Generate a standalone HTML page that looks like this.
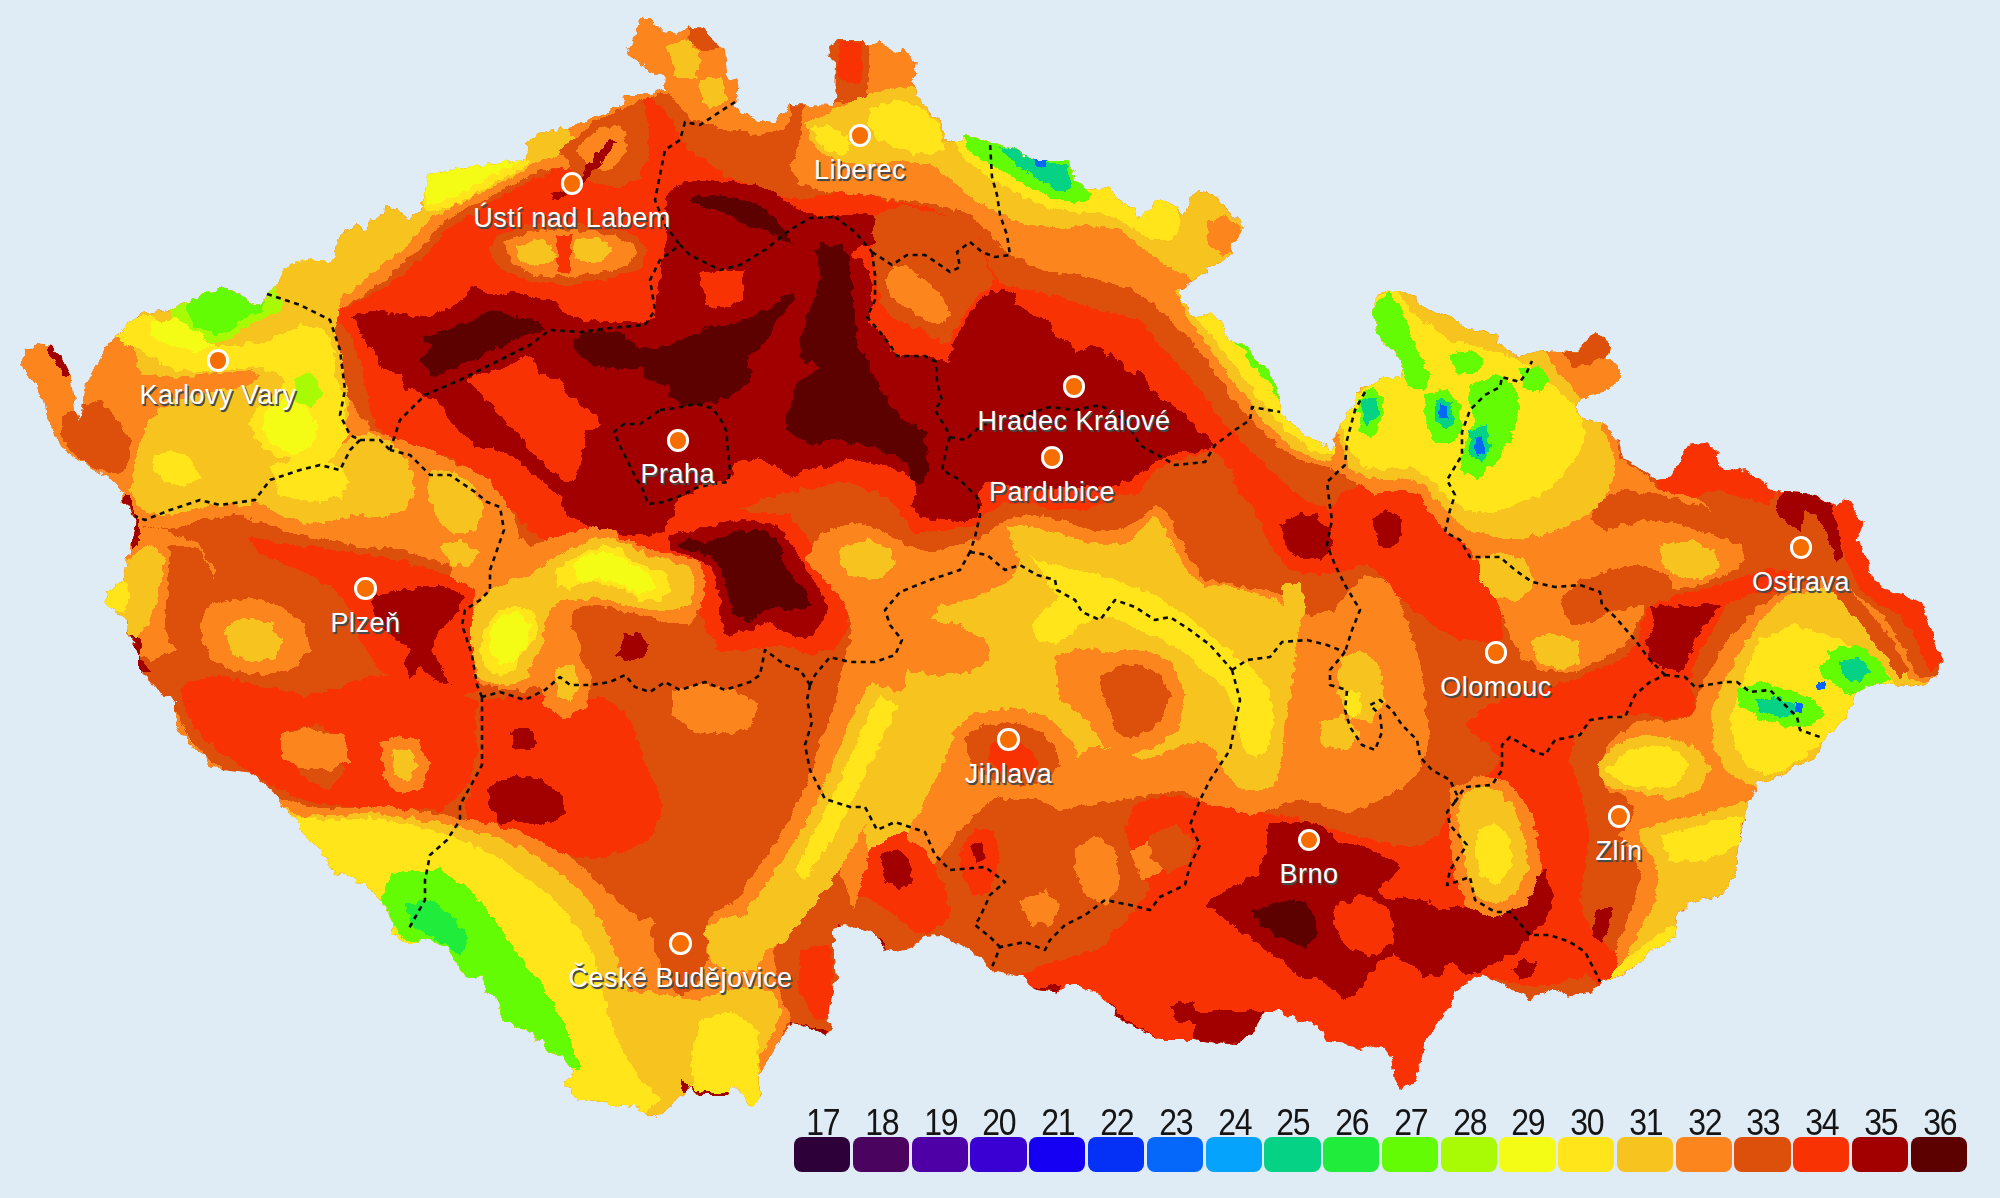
<!DOCTYPE html>
<html lang="cs"><head><meta charset="utf-8"><title>Teplota vzduchu - Česká republika</title>
<style>
html,body{margin:0;padding:0;background:#e0ecf5}
body{width:2000px;height:1198px;position:relative;overflow:hidden;font-family:"Liberation Sans",sans-serif}
#map{position:absolute;left:0;top:0;display:block}
.city{position:absolute;width:0;height:0}
.dot{position:absolute;left:-11.2px;top:-11.2px;width:16.4px;height:16.4px;border:3px solid #fff;border-radius:50%;background:#f76e00}
.lbl{position:absolute;left:-200px;width:400px;top:18px;text-align:center;font-size:27px;line-height:32px;color:#fff;white-space:nowrap;letter-spacing:.5px;text-shadow:1.5px 1.5px 0 #4a4a4a,1px 2px 1px rgba(60,60,60,.7)}
#legend{position:absolute;left:794.2px;top:1103px;height:70px;width:1180px}
.sw{position:absolute;top:34px;width:56.2px;height:34.6px;border-radius:8px}
.num{position:absolute;top:2px;width:56.2px;text-align:center;font-size:36px;line-height:36px;color:#151515;transform:scaleX(.89);letter-spacing:-1.4px;text-indent:1.4px}
</style></head><body>
<svg id="map" width="2000" height="1198" viewBox="0 0 2000 1198" shape-rendering="crispEdges">
<defs><clipPath id="cz"><polygon points="37.5,344 50,346 62.5,360 70,375 72.5,392 75,410 79,421 84,400 86,385 95,370 100,361 105,347.5 115,337.5 127.5,324 142.5,314 170,310 190,301 207,293 220,289 232,291 240,295 252,302 260,305 267.5,294 282.5,275 290,265 312.5,260 330,262.5 335,252.5 340,232.5 355,226 367.5,230 370,220 382.5,214 385,206 397.5,210 410,220 420,210 425,187.5 430,175 450,171 457.5,166 480,167.5 485,164 515,162.5 527.5,157.5 526,142.5 532.5,137.5 550,130 570,127 580,124 600,115 620,106 624,95 650,95 665,89 666,77.5 650,72.5 646,64 630,56 626,51 635,37.5 640,19 649,19 660,29 677.5,34 690,27.5 702.5,27.5 712.5,40 725,52.5 727.5,80 736,77.5 739.5,87.5 735,102.5 740,112.5 757.5,120 775,122.5 782.5,114 790,105 835,106 836,62.5 827.5,55 829,47.5 837.5,40 862.5,40 867.5,46 880,40 886,47.5 899,52.5 904,49 917.5,62.5 916,72.5 911,82.5 925,105 942.5,125 945,142.5 960,142.5 965,135 990,142.5 1012.5,147.5 1035,160 1067.5,160 1075,180 1085,189 1097.5,190 1110,185 1122.5,205 1135,207.5 1137.5,220 1147.5,210 1157.5,199 1170,202.5 1185,215 1190,197.5 1197.5,190 1212.5,194 1245,227.5 1232.5,245 1230,255 1205,272.5 1180,290 1180,300 1190,312.5 1200,317.5 1212.5,314 1222.5,325 1227.5,340 1242.5,342.5 1257.5,362.5 1272.5,377.5 1277.5,390 1281,410 1287.5,420 1312.5,440 1327.5,445 1330,451 1335,445 1336,432.5 1345,420 1355,405 1355,395 1362.5,387.5 1375,385 1380,379 1400,377.5 1402.5,365 1395,352.5 1380,342.5 1375,320 1372.5,302.5 1382.5,291 1400,291 1412.5,297.5 1430,311 1452.5,317.5 1467.5,330 1497.5,334 1501,347.5 1515,356 1545,350 1575,352.5 1595,331 1610,345 1607.5,357.5 1620,370 1617.5,382.5 1602.5,392.5 1582.5,397.5 1576,405 1582.5,417.5 1605,424 1617.5,440 1622.5,458 1640,468 1655,479 1670,477.5 1680,461 1687.5,445 1707.5,442.5 1717.5,452.5 1719,467.5 1730,472.5 1740,467.5 1750,474 1765,482.5 1775,492.5 1785,491 1810,492.5 1830,505 1835,507.5 1847.5,497.5 1857.5,515 1862.5,522.5 1857.5,540 1867.5,560 1872.5,580 1885,590 1900,595 1922.5,602.5 1927.5,620 1935,645 1943,660 1937.5,676 1925,685 1912.5,688 1890,683 1870,685 1857,691 1852,703 1847.5,717.5 1825,737.5 1815,757.5 1795,767.5 1777.5,777.5 1757.5,782.5 1750,800 1746,812.5 1741,835 1737.5,850 1737.5,867.5 1730,885 1720,897.5 1700,900 1687.5,905 1677,916 1674,935 1671,943 1650,950 1640,962.5 1625,972.5 1610,977.5 1600,982.5 1590,992.5 1570,997.5 1552.5,987.5 1540,995 1530,1000 1517.5,992.5 1500,982.5 1485,976 1472.5,977.5 1465,985 1455,992.5 1450,1005 1440,1020 1425,1040 1420,1062.5 1415,1082.5 1400,1089 1395,1080 1392.5,1060 1385,1050 1375,1045 1360,1050 1345,1042.5 1325,1040 1317.5,1025 1295,1020 1282.5,1011 1262.5,1011 1255,1030 1237.5,1045 1215,1042.5 1195,1040 1160,1040 1140,1030 1120,1020 1110,1005 1095,992.5 1080,985 1065,985 1057.5,992.5 1037.5,990 1022.5,977.5 1005,972.5 990,970 980,957.5 965,947.5 950,940 940,935 925,936 912.5,947.5 885,952.5 877.5,935 865,930 845,925 834,929 834,960 836,980 830,1000 828,1020 831,1030 825,1036 812,1028 792,1023 781,1039 770,1057 760,1073 760,1095 752.5,1107.5 742.5,1095 735,1087.5 725,1095 700,1095 690,1085 685,1092.5 675,1102.5 657.5,1117.5 637.5,1107.5 600,1102.5 580,1100 570,1090 565,1082.5 575,1070 565,1057.5 550,1052.5 540,1040 525,1030 505,1022.5 497.5,1002.5 487.5,990 482.5,975 467.5,980 455,960 447.5,947.5 432.5,940 410,942.5 392.5,935 392.5,922.5 382.5,902.5 365,885 350,876 335,872.5 327.5,862.5 320,850 310,842.5 302.5,832.5 297.5,820 287.5,812.5 280,805 277.5,795 265,785 250,772.5 230,770 210,767.5 205,755 192.5,747.5 182.5,735 175,720 175,700 162.5,695 152.5,682.5 140,670 140,652.5 129,637.5 127.5,622.5 115,612.5 105,600 107.5,592.5 122.5,580 125,572.5 129,552.5 132.5,537.5 136,520 130,507.5 122.5,502.5 122.5,492.5 110,480 92.5,467.5 80,460 61,447.5 54,435 47.5,417.5 44,400 35,382.5 25,370 22,362.5 25,350"/></clipPath>
<filter id="rough" x="0" y="0" width="2000" height="1198" filterUnits="userSpaceOnUse" color-interpolation-filters="sRGB">
<feTurbulence type="fractalNoise" baseFrequency="0.11" numOctaves="2" seed="7" result="n"/>
<feDisplacementMap in="SourceGraphic" in2="n" scale="9" xChannelSelector="R" yChannelSelector="G"/>
</filter></defs>
<g filter="url(#rough)"><g clip-path="url(#cz)">
<rect x="0" y="0" width="2000" height="1198" fill="#dc500c"/>
<polygon fill="#f93204" points="320,315 352,305 380,290 408,270 430,250 448,228 482,208 505,194 528,183 548,172 568,164 590,135 620,108 650,97 665,110 688,148 725,175 775,195 800,200 825,195 850,190 875,197 925,207 950,215 975,228 985,255 1000,283 1050,295 1100,310 1140,320 1165,350 1200,390 1225,425 1250,450 1280,480 1305,500 1330,520 1350,545 1345,570 1320,575 1290,570 1270,545 1255,510 1240,495 1230,470 1215,450 1195,455 1175,460 1155,470 1145,485 1140,495 1120,495 1100,505 1080,510 1055,510 1030,505 1010,502 990,510 975,525 945,530 915,535 905,520 890,500 875,492 840,482 800,490 760,500 740,510 790,515 810,540 825,570 845,600 850,625 835,650 810,655 780,645 750,650 720,650 705,630 700,610 705,585 700,562 675,555 650,550 625,540 610,530 590,527 570,532 550,545 525,525 500,500 475,475 450,457 425,450 400,442 385,435 375,425 370,405 365,385 360,360 350,335 337,320"/>
<polygon fill="#a20000" points="350,316 375,310 400,315 425,317 440,310 455,305 465,297 470,285 480,287 485,295 500,295 515,292 525,294 540,299 555,302 560,310 575,318 600,322 640,322 655,318 657,300 660,275 667,240 665,200 675,185 700,180 735,182 770,190 800,210 820,217 840,214 880,215 890,225 897,235 880,237 872,245 860,247 850,255 860,260 870,270 872,295 870,310 872,325 885,335 890,350 900,356 925,356 940,360 950,362 952,345 960,330 970,315 980,300 990,290 1010,292 1020,305 1035,315 1050,320 1055,337 1070,342 1075,352 1090,345 1105,352 1120,362 1130,375 1142,370 1150,385 1160,400 1175,405 1185,415 1195,430 1210,437 1215,445 1200,451 1180,453 1160,459 1146,469 1133,479 1120,485 1105,486 1090,485 1070,487 1050,490 1030,487 1005,485 990,482 980,487 980,505 975,517 960,522 940,520 920,517 912,505 917,490 912,477 895,470 880,465 850,460 828,466 808,470 788,478 780,470 768,462 752,458 735,462 730,478 700,487 680,497 675,512 665,530 650,535 625,535 605,530 585,525 565,515 562,497 550,490 537,475 525,467 512,457 495,450 475,447 460,430 450,420 440,400 425,397 417,392 407,390 400,375 382,367 375,350 365,342 357,325"/>
<polygon fill="#f93204" points="465,380 480,392 495,410 507,425 515,430 525,445 537,457 550,470 565,482 575,480 580,470 582,450 587,432 600,425 595,415 582,405 575,400 565,390 560,380 540,375 535,360 525,355 515,362 505,367 490,372 475,375"/>
<polygon fill="#f93204" points="700,272 744,270 742,300 725,308 705,305"/>
<polygon fill="#a20000" points="670,535 690,530 715,525 740,520 765,522 785,532 795,550 805,570 820,590 830,610 820,625 805,640 785,630 765,622 750,632 725,635 720,620 720,600 715,580 710,565 690,557 670,550"/>
<polygon fill="#a20000" points="625,632 640,635 650,645 645,657 630,662 615,657 620,645"/>
<polygon fill="#5c0000" points="420,337 440,332 460,325 475,317 490,312 500,310 515,317 540,322 545,330 525,335 515,340 505,345 490,350 480,357 465,362 450,370 435,375 425,367 417,360 425,355 430,347 425,340"/>
<polygon fill="#5c0000" points="574,340 580,334 600,332 620,333 628,340 640,348 656,348 672,344 684,338 700,332 712,324 728,326 740,320 752,316 764,310 776,306 784,296 792,290 796,298 788,308 780,316 776,326 768,336 760,346 752,354 748,362 752,372 748,382 740,390 728,398 712,402 696,404 680,404 672,398 668,386 656,382 644,376 640,366 624,368 608,370 592,364 580,356 574,348"/>
<polygon fill="#5c0000" points="815,250 820,245 840,245 850,255 849,270 852,290 854,310 856,330 858,350 868,358 872,374 880,390 892,406 904,422 916,426 926,434 926,450 930,470 920,486 912,482 908,466 900,458 884,452 868,446 848,442 828,440 812,446 800,440 788,430 784,422 790,410 794,394 796,382 812,374 818,366 806,362 800,354 800,340 804,324 812,306 816,290 820,276"/>
<polygon fill="#5c0000" points="690,200 700,195 732,197 760,205 775,217 782,228 795,245 775,235 750,228 725,213 700,207"/>
<polygon fill="#5c0000" points="725,537 740,530 765,532 780,545 785,565 795,580 805,590 810,605 800,610 775,607 760,612 750,622 735,615 730,600 725,585 720,567 710,555 690,550 675,545 685,540 710,542"/>
<polygon fill="#fc851e" points="450,530 470,517 500,520 515,537 530,545 550,540 570,532 590,527 610,530 625,540 650,550 675,555 700,562 705,585 700,610 690,625 670,622 650,617 625,612 600,605 575,607 570,625 580,640 580,660 560,670 550,685 525,690 500,690 480,685 465,675 460,645 450,610"/>
<polygon fill="#f7c31e" points="475,605 490,590 510,580 530,575 550,560 570,550 590,540 610,537 630,545 650,557 675,562 690,567 695,585 690,605 675,610 650,610 625,605 600,597 575,600 560,600 550,610 545,625 542,645 532,665 525,680 500,687 482,680 475,665 470,640 472,620"/>
<polygon fill="#ffe51a" points="555,570 570,560 590,550 605,545 620,550 630,560 650,567 667,572 670,590 660,600 640,600 625,590 610,585 590,582 570,590 557,585"/>
<polygon fill="#ffe51a" points="500,610 520,605 535,615 540,630 530,645 520,657 515,670 500,675 487,670 480,655 482,635 490,620"/>
<polygon fill="#dc500c" points="872,252 875,215 900,205 950,215 975,228 990,270 995,280 985,290 970,305 960,320 950,340 940,345 925,330 905,325 890,315 880,300 877,280 875,265"/>
<polygon fill="#fc851e" points="890,270 905,265 925,280 940,295 950,310 945,325 925,320 905,305 890,295 885,280"/>
<polygon fill="#fc851e" points="325,318 352,302 380,284 403,264 424,244 440,224 460,212 482,202 505,189 525,178 542,170 560,168 585,172 600,175 612,165 618,145 622,125 640,100 600,80 400,150 250,250 250,300 300,322"/>
<polygon fill="#f7c31e" points="332,305 352,291 374,272 396,254 416,236 432,218 452,206 476,196 496,185 515,175 533,164 547,155 562,140 572,127 560,100 400,150 250,250 260,300 300,310"/>
<polygon fill="#ffe51a" points="415,170 426,214 452,205 474,195 494,183 513,173 530,163 530,140 430,140"/>
<polygon fill="#f4fb14" points="420,170 428,205 450,198 470,188 490,177 508,168 522,160 522,140 430,140"/>
<polygon fill="#f4fb14" points="265,295 282,262 335,258 332,272 322,290 310,302 293,309 275,303"/>
<polygon fill="#fc851e" points="325,318 330,340 345,380 350,400 370,430 400,440 430,450 460,465 490,480 510,510 520,535 500,560 480,575 450,565 400,550 350,545 300,535 270,525 235,515 200,520 170,530 135,525 100,530 0,500 0,300 200,250 300,280"/>
<polygon fill="#dc500c" points="62,417 82,405 100,400 110,410 120,425 130,440 130,460 120,475 105,472 90,465 75,455 62,442"/>
<polygon fill="#f7c31e" points="130,325 145,312 170,308 207,293 260,303 290,265 335,255 340,300 335,330 345,380 350,400 345,430 335,460 310,465 280,470 255,490 250,505 215,505 185,512 160,515 140,510 130,490 135,460 145,430 150,400 140,375 135,350"/>
<polygon fill="#f7c31e" points="250,465 280,455 320,462 350,440 370,432 395,445 410,465 415,490 405,510 385,518 360,515 340,520 310,525 280,515 255,500 245,480"/>
<polygon fill="#f7c31e" points="430,470 455,472 475,488 485,510 475,530 455,535 438,520 428,495"/>
<polygon fill="#f7c31e" points="440,545 462,540 478,552 470,565 450,565"/>
<polygon fill="#ffe51a" points="112,335 130,320 150,315 170,325 190,340 215,347 240,345 265,342 285,332 300,325 325,330 335,350 335,375 345,395 345,420 350,435 335,455 325,465 300,462 275,455 255,440 250,420 260,405 275,395 285,382 275,372 250,367 225,370 200,372 175,370 155,360 140,350 125,345"/>
<polygon fill="#fc851e" points="85,382 150,375 175,377 200,375 225,372 250,370 260,375 250,385 225,390 200,395 175,400 160,410 150,420 140,425 135,410 140,390"/>
<polygon fill="#ffe51a" points="155,455 175,450 195,462 200,478 185,487 165,482 152,470"/>
<polygon fill="#ffe51a" points="270,465 300,458 335,465 350,480 340,498 310,502 280,495"/>
<polygon fill="#a8fb05" points="168,308 175,328 195,337 215,342 230,340 240,330 260,320 275,315 285,305 270,280 220,275 190,290"/>
<polygon fill="#64fc05" points="185,305 195,328 215,335 230,332 245,318 262,310 265,295 240,285 215,285"/>
<polygon fill="#a8fb05" points="295,378 305,372 318,380 322,395 312,407 298,402 292,390"/>
<polygon fill="#fc851e" points="527,158 540,162 560,165 585,170 600,175 612,165 618,145 622,125 610,105 590,110 570,120 550,125 525,138"/>
<polygon fill="#f7c31e" points="527,135 545,128 570,124 572,140 560,155 540,162 527,160"/>
<polygon fill="#fc851e" points="615,110 650,97 668,92 690,120 720,128 760,135 790,125 790,100 745,70 730,10 640,10 620,50"/>
<polygon fill="#f7c31e" points="668,45 690,40 702,60 695,78 675,75"/>
<polygon fill="#f7c31e" points="700,80 722,78 728,100 710,108 700,95"/>
<polygon fill="#dc500c" points="688,26 712,28 720,48 700,52 690,42"/>
<polygon fill="#fc851e" points="800,140 790,165 800,185 830,192 860,195 900,200 940,205 970,215 990,235 1010,255 1040,270 1080,275 1120,285 1150,300 1170,320 1190,340 1210,365 1230,395 1250,420 1275,445 1300,460 1330,470 1345,440 1290,400 1260,300 1260,200 1100,150 950,100 930,35 870,35 868,100 805,105"/>
<polygon fill="#f93204" points="838,42 862,42 862,80 850,85 838,75"/>
<polygon fill="#f7c31e" points="805,125 815,150 840,162 870,165 900,160 930,165 950,180 975,200 1000,215 1030,225 1060,228 1090,225 1120,230 1140,245 1160,262 1185,275 1200,290 1215,275 1260,250 1260,180 1100,150 950,100 900,85 870,95 840,105"/>
<polygon fill="#fc851e" points="1207,222 1225,215 1242,228 1240,250 1222,255 1208,245"/>
<polygon fill="#ffe51a" points="870,108 900,100 925,108 940,125 945,150 925,155 900,150 880,140 868,125"/>
<polygon fill="#ffe51a" points="810,128 830,125 850,140 845,155 825,150"/>
<polygon fill="#ffe51a" points="945,130 965,160 990,178 1020,195 1050,208 1080,212 1110,215 1130,225 1150,240 1172,240 1180,225 1178,200 1140,190 1100,170 1040,150 960,120"/>
<polygon fill="#64fc05" points="962,135 975,158 1000,170 1025,185 1050,198 1075,203 1090,197 1088,185 1070,158 1035,155 1010,143 985,134"/>
<polygon fill="#05d284" points="1000,148 1015,165 1040,180 1060,192 1072,188 1068,166 1040,160 1015,146"/>
<polygon fill="#0568fb" points="1033,159 1048,159 1046,167 1035,166"/>
<polygon fill="#f7c31e" points="1175,292 1190,322 1205,340 1218,360 1232,380 1248,400 1262,420 1282,440 1305,456 1335,462 1345,420 1290,400 1260,330 1200,285"/>
<polygon fill="#ffe51a" points="1182,298 1197,320 1212,336 1227,356 1242,376 1257,396 1272,416 1292,436 1312,450 1335,455 1345,420 1290,400 1260,330 1200,290"/>
<polygon fill="#64fc05" points="1228,335 1240,347 1255,367 1268,382 1278,400 1288,388 1265,358 1245,336"/>
<polygon fill="#fc851e" points="100,530 135,525 170,532 200,545 215,570 205,600 190,630 175,650 150,660 120,640 100,600"/>
<polygon fill="#f7c31e" points="103,585 120,583 128,600 122,612 108,608"/>
<polygon fill="#fc851e" points="200,610 225,600 255,598 285,608 305,625 310,650 295,668 265,675 235,672 212,660 200,635"/>
<polygon fill="#f7c31e" points="225,628 245,618 270,622 282,640 275,658 250,662 230,652"/>
<polygon fill="#f93204" points="250,537 290,545 330,548 365,555 400,560 440,572 475,590 470,640 478,690 455,700 430,690 400,690 380,670 360,640 350,610 335,590 310,575 280,562 255,550"/>
<polygon fill="#f93204" points="180,690 192,680 220,675 255,685 280,690 305,695 330,690 355,680 380,675 405,685 430,690 455,695 477,700 477,755 470,780 455,800 440,810 425,808 405,812 380,808 355,806 330,805 305,800 280,790 255,775 225,755 200,735 185,710"/>
<polygon fill="#dc500c" points="292,730 317,725 340,735 335,755 345,770 330,790 305,780 292,760"/>
<polygon fill="#fc851e" points="380,742 400,735 420,742 430,765 420,790 400,795 385,780"/>
<polygon fill="#f7c31e" points="392,752 408,748 418,765 408,782 395,775"/>
<polygon fill="#a20000" points="372,595 405,590 440,585 465,595 455,615 440,630 430,650 440,665 450,685 435,680 420,667 410,680 405,665 410,650 400,640 385,630 375,615"/>
<polygon fill="#a20000" points="127,622 140,640 142,660 150,672 138,672 128,650"/>
<polygon fill="#f93204" points="480,700 530,695 570,700 605,698 625,712 637,738 645,765 658,790 662,815 650,838 625,852 595,858 560,855 520,850 490,840 470,830 465,800 480,770 482,730"/>
<polygon fill="#a20000" points="512,730 530,728 537,742 530,752 515,750"/>
<polygon fill="#a20000" points="490,785 515,775 540,780 562,795 565,815 545,825 520,820 500,825 488,805"/>
<polygon fill="#fc851e" points="172,705 188,738 212,762 248,783 282,800 315,808 345,808 380,806 410,810 450,816 490,824 530,836 565,854 595,878 618,903 640,919 650,919 670,939 690,949 700,929 720,909 745,900 770,910 790,940 800,980 790,1020 770,1060 760,1120 600,1150 400,1000 250,850 150,700"/>
<polygon fill="#f7c31e" points="200,760 235,785 270,803 305,816 340,816 380,814 410,818 450,825 490,835 525,849 555,869 585,895 605,927 618,962 628,992 650,992 675,998 700,1000 725,990 750,985 772,992 782,1010 775,1030 760,1055 760,1120 600,1150 400,1000 250,850 180,720"/>
<polygon fill="#ffe51a" points="290,815 330,820 370,818 410,824 450,836 485,850 515,870 545,892 570,917 590,947 600,982 610,1020 625,1055 645,1085 660,1100 600,1150 400,1000 280,840"/>
<polygon fill="#ffe51a" points="700,1020 730,1010 758,1030 760,1120 700,1120 690,1060"/>
<polygon fill="#64fc05" points="392,872 440,870 470,890 495,920 515,950 545,990 565,1025 580,1068 520,1060 480,1000 440,950 400,935 380,900"/>
<polygon fill="#20ec3c" points="405,905 430,900 452,915 470,940 460,955 440,940 415,930"/>
<polygon fill="#dc500c" points="770,925 790,915 815,925 838,940 840,1000 835,1030 810,1030 785,1010 775,970"/>
<polygon fill="#f93204" points="800,950 830,945 836,1015 815,1020 798,990"/>
<polygon fill="#fc851e" points="840,690 860,700 865,740 862,780 855,810 840,845 820,880 800,910 780,940 765,960 740,965 720,950 718,925 732,905 750,880 770,850 790,820 810,775 828,725"/>
<polygon fill="#fc851e" points="805,560 820,535 850,522 880,530 905,545 930,552 960,545 985,535 1005,520 1030,515 1060,520 1090,530 1120,530 1140,520 1155,505 1168,512 1178,535 1190,560 1205,580 1235,585 1265,590 1290,600 1310,615 1335,610 1350,590 1365,575 1385,580 1400,600 1410,630 1420,660 1425,700 1430,740 1420,770 1400,790 1380,800 1360,810 1340,812 1320,805 1300,800 1280,805 1260,815 1240,820 1220,815 1200,800 1180,790 1150,795 1120,800 1090,805 1060,810 1040,800 1020,790 1000,795 980,810 960,830 945,850 930,870 915,900 900,925 880,935 860,925 850,900 840,870 838,840 822,812 810,785 815,755 828,725 838,695 842,670 846,655 850,640 852,620 842,600 825,580"/>
<polygon fill="#f7c31e" points="920,640 940,605 970,600 990,590 1010,580 1020,565 1015,545 1005,527 1020,525 1055,532 1080,540 1105,545 1130,542 1142,527 1155,515 1165,530 1175,550 1190,575 1205,585 1230,587 1250,592 1275,600 1290,612 1298,640 1292,680 1287,720 1282,755 1275,785 1260,790 1240,790 1225,775 1215,750 1200,740 1180,745 1160,755 1140,760 1120,750 1100,745 1080,755 1060,770 1050,760 1040,740 1030,720 1010,715 990,720 970,715 955,730 945,760 930,790 915,820 900,850 885,870 870,860 865,830 870,800 880,770 890,740 900,710 905,680 910,660"/>
<polygon fill="#f7c31e" points="872,682 910,695 900,735 885,775 870,815 852,850 830,885 805,915 785,940 765,950 745,940 742,918 760,892 782,862 802,830 822,790 838,750 852,715"/>
<polygon fill="#f7c31e" points="840,548 865,540 890,548 897,565 880,578 855,577 840,565"/>
<polygon fill="#fc851e" points="875,640 900,622 930,618 960,625 985,640 990,660 970,672 940,675 910,672 885,662"/>
<polygon fill="#fc851e" points="1055,655 1085,648 1110,652 1145,650 1172,662 1185,695 1180,725 1160,745 1130,755 1105,745 1085,720 1060,700"/>
<polygon fill="#dc500c" points="1100,677 1115,667 1140,665 1160,675 1170,695 1165,715 1150,730 1130,740 1115,730 1110,710 1102,695"/>
<polygon fill="#fc851e" points="950,740 975,712 1015,708 1050,718 1075,745 1078,775 1055,795 1015,800 980,795 955,775"/>
<polygon fill="#dc500c" points="967,735 985,725 1010,722 1035,728 1055,745 1060,765 1045,780 1020,785 995,780 975,770 965,752"/>
<polygon fill="#f93204" points="990,745 1010,738 1030,748 1040,765 1020,775 1000,772 988,760"/>
<polygon fill="#ffe51a" points="1030,556 1055,566 1080,571 1105,576 1130,586 1155,596 1180,611 1205,631 1230,651 1255,671 1269,691 1274,720 1269,749 1255,759 1241,745 1237,715 1227,692 1207,672 1182,651 1156,637 1131,626 1105,616 1082,622 1074,634 1056,644 1036,639 1032,625 1042,611 1058,598 1048,581"/>
<polygon fill="#ffe51a" points="880,695 898,705 885,735 870,765 855,795 840,825 822,855 805,880 795,870 810,840 828,805 845,770 860,735 870,710"/>
<polygon fill="#f7c31e" points="1340,660 1360,650 1380,665 1385,700 1372,722 1350,718 1338,695"/>
<polygon fill="#f7c31e" points="1318,722 1343,716 1360,732 1348,750 1326,748"/>
<polygon fill="#f7c31e" points="1282,585 1300,582 1305,610 1298,632 1284,628"/>
<polygon fill="#ffe51a" points="1345,693 1358,690 1363,705 1355,717 1345,712"/>
<polygon fill="#f93204" points="1215,450 1250,450 1280,480 1305,500 1330,510 1345,490 1370,480 1400,478 1430,490 1450,505 1470,520 1490,540 1500,570 1502,600 1502,640 1485,642 1460,640 1440,630 1420,615 1400,600 1385,580 1370,565 1345,570 1320,575 1290,570 1270,545 1255,510 1240,495 1230,470"/>
<polygon fill="#f93204" points="1030,969 1100,949 1130,915 1150,890 1135,860 1125,830 1135,805 1165,795 1200,800 1240,812 1270,815 1300,818 1340,832 1380,842 1410,848 1435,838 1450,812 1480,785 1500,760 1490,745 1475,735 1465,725 1480,710 1500,700 1520,695 1545,690 1570,680 1595,670 1620,660 1640,640 1645,610 1675,595 1700,590 1725,582 1750,575 1770,570 1790,572 1787,585 1775,592 1750,595 1725,605 1720,620 1700,650 1690,680 1695,700 1690,715 1670,720 1645,715 1620,715 1595,720 1575,735 1570,760 1580,790 1590,830 1585,870 1580,900 1590,930 1610,950 1640,960 1700,1000 1600,1100 1400,1150 1100,1100 1000,1000"/>
<polygon fill="#f93204" points="1655,479 1670,477 1688,445 1708,440 1718,452 1720,467 1740,465 1765,480 1775,490 1770,505 1750,500 1730,495 1715,490 1700,495 1685,500 1665,495"/>
<polygon fill="#f93204" points="1775,488 1810,490 1835,505 1848,495 1865,522 1860,540 1875,580 1900,593 1925,600 1937,645 1946,660 1930,672 1915,640 1900,615 1880,605 1860,590 1848,565 1840,540 1825,520 1800,510 1780,505"/>
<polygon fill="#a20000" points="1280,525 1295,515 1315,515 1330,530 1332,550 1320,560 1300,558 1285,548"/>
<polygon fill="#a20000" points="1372,520 1385,510 1400,515 1402,535 1392,548 1378,545"/>
<polygon fill="#a20000" points="1650,607 1720,605 1695,640 1685,670 1665,670 1650,660 1645,640 1655,625"/>
<polygon fill="#a20000" points="1775,500 1785,491 1810,492 1830,505 1838,525 1842,555 1835,560 1828,535 1815,515 1805,512 1800,530 1790,525 1778,515"/>
<polygon fill="#a20000" points="1270,822 1300,820 1320,825 1335,840 1360,845 1380,855 1400,865 1390,880 1375,890 1385,900 1405,897 1425,900 1440,910 1460,907 1475,905 1500,900 1520,895 1535,875 1545,870 1552,885 1552,905 1545,920 1530,935 1520,950 1500,960 1480,972 1465,975 1450,960 1440,975 1425,975 1410,965 1395,955 1380,960 1370,975 1355,995 1345,1000 1335,990 1320,980 1300,975 1280,960 1260,945 1240,930 1220,915 1205,905 1215,895 1235,885 1255,875 1265,855 1267,835"/>
<polygon fill="#f93204" points="1335,905 1365,895 1390,910 1395,940 1375,955 1350,950 1335,930"/>
<polygon fill="#5c0000" points="1250,912 1270,905 1290,900 1305,902 1315,917 1317,935 1305,947 1290,942 1275,935 1260,925"/>
<polygon fill="#a20000" points="1195,1012 1262,1010 1255,1032 1237,1048 1210,1046 1195,1040"/>
<polygon fill="#a20000" points="1170,1004 1195,1002 1195,1022 1175,1020"/>
<polygon fill="#a20000" points="1592,935 1598,910 1612,905 1610,925 1600,942"/>
<polygon fill="#a20000" points="1512,968 1525,960 1537,962 1533,975 1518,978"/>
<polygon fill="#dc500c" points="1495,978 1520,985 1550,985 1590,975 1600,990 1560,1000 1500,1000"/>
<polygon fill="#fc851e" points="1075,850 1095,835 1115,850 1120,885 1105,905 1085,895 1075,870"/>
<polygon fill="#fc851e" points="1020,900 1045,890 1060,905 1050,925 1030,925"/>
<polygon fill="#fc851e" points="1130,850 1150,842 1165,855 1160,875 1140,880"/>
<polygon fill="#fc851e" points="1450,790 1480,775 1510,782 1528,805 1538,840 1540,875 1525,905 1495,918 1468,908 1455,880 1450,840"/>
<polygon fill="#f7c31e" points="1462,795 1480,785 1500,790 1515,810 1525,840 1528,870 1515,895 1495,905 1475,895 1465,870 1462,840 1458,815"/>
<polygon fill="#ffe51a" points="1478,830 1495,822 1510,840 1512,865 1498,885 1482,878 1475,855"/>
<polygon fill="#fc851e" points="1335,445 1332,470 1355,482 1375,495 1400,490 1420,495 1430,515 1445,530 1465,545 1480,565 1495,595 1505,625 1520,655 1545,672 1575,672 1600,660 1625,645 1640,620 1645,600 1670,590 1700,585 1725,575 1745,560 1740,535 1720,520 1700,500 1680,495 1660,490 1650,478 1620,458 1617,440 1605,424 1650,400 1650,300 1400,270 1340,300 1330,400"/>
<polygon fill="#dc500c" points="1600,500 1625,490 1660,495 1700,505 1730,520 1760,530 1765,545 1740,545 1710,535 1680,525 1650,520 1625,525 1605,530 1590,520"/>
<polygon fill="#dc500c" points="1560,600 1580,580 1610,570 1640,565 1670,575 1675,595 1650,605 1620,610 1595,620 1570,625"/>
<polygon fill="#f7c31e" points="1340,445 1350,470 1375,480 1400,478 1425,485 1440,505 1460,525 1485,535 1510,540 1540,535 1570,525 1595,510 1610,490 1615,465 1610,440 1600,425 1650,400 1650,300 1400,270 1340,300 1330,400"/>
<polygon fill="#f7c31e" points="1478,560 1500,552 1525,560 1535,585 1520,600 1495,598 1480,580"/>
<polygon fill="#f7c31e" points="1532,640 1555,632 1578,642 1580,662 1560,670 1538,662"/>
<polygon fill="#f7c31e" points="1660,545 1690,540 1715,550 1720,570 1700,580 1675,575 1660,562"/>
<polygon fill="#fc851e" points="1545,348 1575,350 1595,328 1614,345 1624,370 1620,385 1600,395 1580,398 1570,385 1555,370"/>
<polygon fill="#dc500c" points="1562,352 1578,350 1595,330 1612,345 1606,358 1590,365 1572,366"/>
<polygon fill="#ffe51a" points="1345,440 1360,465 1385,470 1410,468 1430,478 1445,495 1465,510 1490,515 1515,505 1540,495 1560,480 1575,460 1585,440 1582,418 1570,400 1550,385 1530,365 1510,355 1490,350 1470,345 1450,340 1430,325 1410,310 1395,290 1370,295 1368,340 1395,352 1402,370 1380,380 1355,395 1340,420"/>
<polygon fill="#64fc05" points="1372,305 1390,292 1400,305 1410,330 1420,355 1430,375 1425,390 1405,385 1400,365 1395,352 1380,342 1373,320"/>
<polygon fill="#64fc05" points="1362,392 1375,388 1385,400 1380,425 1370,440 1360,430 1358,410"/>
<polygon fill="#64fc05" points="1425,395 1445,390 1460,405 1462,430 1450,445 1432,440 1425,420"/>
<polygon fill="#64fc05" points="1470,385 1495,375 1515,385 1520,410 1510,440 1495,465 1475,480 1460,470 1465,445 1475,420 1468,400"/>
<polygon fill="#64fc05" points="1450,355 1470,350 1485,362 1475,375 1455,372"/>
<polygon fill="#64fc05" points="1520,370 1540,365 1550,380 1540,392 1525,388"/>
<polygon fill="#05d284" points="1435,400 1450,400 1455,420 1445,432 1435,420"/>
<polygon fill="#05d284" points="1470,430 1485,425 1492,445 1482,462 1470,455"/>
<polygon fill="#05d284" points="1363,398 1376,396 1378,415 1368,428 1362,415"/>
<polygon fill="#0568fb" points="1440,405 1448,405 1448,418 1440,418"/>
<polygon fill="#0568fb" points="1473,438 1483,436 1485,452 1476,455"/>
<polygon fill="#fc851e" points="1600,770 1610,740 1640,720 1670,722 1690,716 1700,690 1720,650 1740,625 1760,605 1787,590 1810,585 1830,580 1850,590 1870,605 1890,625 1905,650 1915,675 1950,680 1950,700 1860,760 1760,900 1700,1000 1640,1000 1620,975 1615,950 1625,925 1635,900 1640,870 1630,850 1618,835 1635,815 1625,795 1605,790"/>
<polygon fill="#f7c31e" points="1787,597 1810,590 1830,585 1848,595 1865,612 1885,632 1900,655 1910,680 1950,685 1950,700 1860,760 1800,790 1760,790 1730,775 1715,750 1710,720 1720,690 1735,660 1750,635 1768,612"/>
<polygon fill="#f7c31e" points="1595,765 1615,745 1645,735 1675,738 1700,750 1710,770 1700,790 1675,800 1650,795 1625,790 1605,785"/>
<polygon fill="#f7c31e" points="1640,830 1670,820 1700,815 1730,805 1750,800 1745,840 1738,870 1725,895 1700,905 1680,910 1675,940 1650,955 1640,975 1625,960 1640,930 1655,900 1660,870 1645,850"/>
<polygon fill="#ffe51a" points="1760,640 1790,625 1815,630 1840,640 1865,655 1885,670 1900,690 1860,700 1850,720 1825,740 1800,760 1775,775 1750,770 1735,750 1730,720 1740,690 1750,660"/>
<polygon fill="#ffe51a" points="1605,770 1625,752 1650,745 1675,750 1690,765 1675,785 1650,788 1625,785"/>
<polygon fill="#ffe51a" points="1660,835 1690,828 1720,820 1742,815 1740,845 1720,855 1695,862 1670,860"/>
<polygon fill="#ffe51a" points="1650,940 1675,925 1700,905 1720,898 1700,930 1680,950 1660,965 1640,975 1615,990 1600,985 1620,965"/>
<polygon fill="#64fc05" points="1830,650 1855,645 1880,660 1890,680 1870,690 1850,695 1835,685 1820,670"/>
<polygon fill="#64fc05" points="1737,690 1760,682 1790,690 1815,700 1825,715 1805,728 1780,725 1755,715 1740,705"/>
<polygon fill="#05d284" points="1840,660 1860,658 1872,672 1858,682 1842,676"/>
<polygon fill="#05d284" points="1755,700 1780,698 1800,710 1785,718 1760,712"/>
<polygon fill="#0568fb" points="1818,682 1826,682 1826,690 1818,690"/>
<polygon fill="#0568fb" points="1795,705 1803,705 1803,712 1795,712"/>
<polygon fill="#dc500c" points="1800,555 1825,565 1850,590 1872,615 1892,640 1908,670 1900,680 1880,650 1860,622 1838,598 1815,578 1795,568"/>
<polygon fill="#fc851e" points="545,655 575,650 592,675 588,705 565,720 545,705 538,680"/>
<polygon fill="#f7c31e" points="555,668 572,665 580,682 572,700 558,698"/>
<polygon fill="#f4fb14" points="265,410 285,398 305,405 318,425 312,448 292,455 272,445 262,428"/>
<polygon fill="#f4fb14" points="150,322 175,318 200,335 215,345 195,352 170,345 150,335"/>
<polygon fill="#f4fb14" points="572,565 592,553 612,552 628,562 648,572 655,588 640,595 622,585 600,578 580,582"/>
<polygon fill="#f4fb14" points="498,618 518,612 530,625 528,645 515,660 500,665 490,650 490,632"/>
<polygon fill="#dc500c" points="495,238 520,226 560,222 600,226 635,235 648,250 640,268 610,278 570,284 530,282 502,270 490,252"/>
<polygon fill="#fc851e" points="505,242 528,233 560,229 598,232 628,240 638,252 630,264 605,272 570,277 535,275 510,264"/>
<polygon fill="#f7c31e" points="515,247 535,240 552,244 556,258 540,266 520,262"/>
<polygon fill="#f7c31e" points="575,240 598,238 612,248 605,260 585,263 572,252"/>
<polygon fill="#f93204" points="556,236 572,234 570,272 558,274"/>
<polygon fill="#a20000" points="608,138 616,142 605,158 592,172 580,186 566,196 552,200 550,194 565,190 578,178 590,164 600,150"/>
<polygon fill="#dc500c" points="650,925 705,925 708,955 698,985 680,998 666,978 656,955"/>
<polygon fill="#f7c31e" points="705,925 735,915 760,925 768,950 755,970 730,975 710,960"/>
<polygon fill="#a20000" points="48,345 62,358 70,376 63,374 52,358"/>
<polygon fill="#a20000" points="122,497 131,495 133,510 139,522 141,540 133,548 130,530 125,512"/>
<polygon fill="#a20000" points="838,925 880,932 886,953 876,950 866,938 840,932"/>
<polygon fill="#a20000" points="680,1078 700,1092 738,1092 740,1100 695,1100 682,1090"/>
<polygon fill="#a20000" points="790,1022 828,1030 826,1038 810,1030 792,1028"/>
<polygon fill="#a20000" points="1000,972 1035,988 1060,986 1062,994 1035,994 1000,978"/>
<polygon fill="#a20000" points="1110,1005 1125,1020 1160,1040 1160,1046 1122,1026"/>
<polygon fill="#a20000" points="1738,850 1741,835 1746,812 1750,812 1744,850 1740,868"/>
<polygon fill="#dc500c" points="560,150 590,125 620,108 645,100 650,150 640,178 618,188 592,182 572,172"/>
<polygon fill="#fc851e" points="575,150 600,128 622,125 628,150 612,170 590,168"/>
<polygon fill="#a20000" points="608,138 616,142 605,158 592,172 580,186 566,196 552,200 550,194 565,190 578,178 590,164 600,150"/>
<polygon fill="#f93204" points="850,925 870,850 900,832 925,850 945,888 950,918 925,935 875,940"/>
<polygon fill="#dc500c" points="850,925 858,895 880,905 905,925 925,935 875,940"/>
<polygon fill="#a20000" points="880,855 898,848 910,862 912,882 900,890 885,882"/>
<polygon fill="#f93204" points="960,850 975,828 995,832 1000,860 990,892 972,895 962,875"/>
<polygon fill="#a20000" points="970,845 983,842 986,858 976,862"/>
<polygon fill="#fc851e" points="672,690 700,685 735,690 758,705 750,728 720,735 690,730 672,715"/>
<polygon fill="#f7c31e" points="100,580 125,560 150,545 165,560 160,590 150,620 135,640 120,625 105,605"/>
<polygon fill="#ffe51a" points="100,585 122,578 130,595 125,612 108,610"/>
<polygon fill="#dc500c" points="170,545 200,548 212,575 205,610 195,640 178,655 165,630 168,590"/>
<polygon fill="#fc851e" points="280,735 310,728 345,735 350,760 330,770 300,768 282,755"/>
<polygon fill="#dc500c" points="1150,835 1175,825 1195,840 1190,865 1168,872 1150,858"/>
</g></g>
<g fill="none" stroke="#0c0c08" stroke-width="2.6" stroke-dasharray="5 4.5" stroke-linejoin="round" shape-rendering="auto">
<polyline points="267,294 285,300 300,305 330,320 340,350 345,390 340,415 350,435 360,440"/>
<polyline points="360,440 350,450 340,470 320,465 300,470 270,480 255,500 220,505 200,500 170,510 145,520 135,516"/>
<polyline points="360,440 380,440 390,450"/>
<polyline points="390,450 400,420 425,395 460,380 500,360 530,345 550,330 580,332 610,328 645,325 655,310 650,280 660,260 680,245 690,255 720,270 740,265 765,250 790,230 810,218 835,217"/>
<polyline points="735,102 715,115 700,125 685,122 680,140 665,150 660,175 655,200 665,225 680,245"/>
<polyline points="835,217 855,232 872,252"/>
<polyline points="872,252 892,265 907,255 925,255 940,265 950,272 960,267 957,252 970,242 982,252 995,257 1010,255 1007,235 1000,215 997,195 992,177 990,143"/>
<polyline points="872,252 875,275 875,300 867,317 880,332 890,345 897,356 925,356 936,362 937,382 942,400 935,410 947,430 950,437"/>
<polyline points="950,437 965,440 982,425 1000,420 1025,415 1050,407 1075,410 1100,405 1125,420 1140,445 1175,465 1205,462 1215,445 1235,430 1250,420 1252,407 1280,412"/>
<polyline points="1365,392 1355,410 1347,440 1345,465 1327,482 1330,507 1332,520 1327,545 1335,565 1345,585 1360,610 1352,630 1345,652"/>
<polyline points="950,437 947,445 942,470 960,480 977,497 980,515 975,537 970,552"/>
<polyline points="970,552 987,555 1005,570 1020,565 1037,575 1055,580 1057,590 1075,600 1082,612 1100,620 1115,600 1135,607 1155,620 1170,617 1190,630 1210,645 1225,662 1232,670"/>
<polyline points="1232,670 1247,660 1270,657 1282,642 1307,640 1327,645 1345,652"/>
<polyline points="1345,652 1330,670 1330,685 1347,690 1345,710 1350,727 1362,745 1375,750 1382,732 1380,715 1370,705 1380,700 1392,710 1402,725 1417,740 1420,757 1432,770 1450,780 1457,795 1455,802"/>
<polyline points="1455,802 1465,787 1492,785 1502,770 1502,745 1510,737 1535,752 1545,755 1555,740 1580,735 1590,720 1610,717 1625,717 1635,695 1650,682 1665,675"/>
<polyline points="1665,675 1650,660 1635,640 1615,617 1602,605 1600,592 1580,585 1555,587 1532,582 1515,570 1500,557 1470,557 1460,540 1445,532 1450,510 1455,495 1447,480 1462,455 1462,432 1470,410 1485,395 1500,387 1502,377 1520,382 1527,372 1532,361"/>
<polyline points="1665,675 1685,677 1695,687 1725,682 1737,682 1750,692 1770,690 1782,702 1797,717 1800,730 1820,737"/>
<polyline points="1455,802 1447,812 1450,825 1467,845 1450,870 1447,885 1470,877 1475,900 1495,912 1510,912 1530,935 1550,935 1570,942 1585,952 1597,975 1600,982"/>
<polyline points="1232,670 1240,700 1230,750 1210,780 1200,800 1190,825 1200,845 1190,865 1185,885 1160,897 1150,910 1130,905 1105,900 1085,915 1065,925 1050,940 1045,950 1025,942 1000,947 995,960 992,967"/>
<polyline points="970,552 960,570 930,580 900,592 885,610 890,625 902,640 895,655 875,662 850,662 830,657 815,675 810,685"/>
<polyline points="810,685 807,700 812,722 805,745 810,770 825,799 850,807 865,807 877,830 895,822 925,832 935,855 950,870 985,867 1005,882 990,895 980,917 975,925 990,937 1000,947"/>
<polyline points="810,685 800,670 785,665 765,650 760,675 750,682 725,690 705,682 680,690 665,682 650,692 635,687 625,675 610,682 590,685 570,685 560,677 545,690 525,700 500,692 482,697"/>
<polyline points="482,697 477,685 472,655 462,625 465,610 480,600 490,590 490,570 497,550 504,530 500,507 487,502 475,492 450,475 430,475 410,455 390,450"/>
<polyline points="482,697 482,730 482,765 470,787 460,805 460,820 447,840 430,855 425,880 425,900 408,930"/>
<polyline points="660,410 676,408 696,404 712,408 720,418 726,430 728,450 730,470 728,482 712,484 696,488 680,496 664,502 648,504 644,492 636,478 628,462 620,446 614,432 624,424 640,424 652,416 660,410"/>
</g>
</svg>
<div class="city" style="left:860px;top:135.5px"><span class="dot"></span><span class="lbl">Liberec</span></div>
<div class="city" style="left:572px;top:183.5px"><span class="dot"></span><span class="lbl">Ústí nad Labem</span></div>
<div class="city" style="left:218px;top:360.5px"><span class="dot"></span><span class="lbl">Karlovy Vary</span></div>
<div class="city" style="left:677.8px;top:440.3px"><span class="dot"></span><span class="lbl">Praha</span></div>
<div class="city" style="left:1074px;top:386.5px"><span class="dot"></span><span class="lbl">Hradec Králové</span></div>
<div class="city" style="left:1052px;top:457.5px"><span class="dot"></span><span class="lbl">Pardubice</span></div>
<div class="city" style="left:365.5px;top:588.5px"><span class="dot"></span><span class="lbl">Plzeň</span></div>
<div class="city" style="left:1801px;top:547.5px"><span class="dot"></span><span class="lbl">Ostrava</span></div>
<div class="city" style="left:1496px;top:652.5px"><span class="dot"></span><span class="lbl">Olomouc</span></div>
<div class="city" style="left:1008.5px;top:739.5px"><span class="dot"></span><span class="lbl">Jihlava</span></div>
<div class="city" style="left:1309px;top:840px"><span class="dot"></span><span class="lbl">Brno</span></div>
<div class="city" style="left:1619px;top:816.5px"><span class="dot"></span><span class="lbl">Zlín</span></div>
<div class="city" style="left:680.5px;top:943.5px"><span class="dot"></span><span class="lbl">České Budějovice</span></div>
<div id="legend">
<span class="num" style="left:0.0px">17</span><span class="sw" style="left:0.0px;background:#2e003a"></span>
<span class="num" style="left:58.8px">18</span><span class="sw" style="left:58.8px;background:#4a045f"></span>
<span class="num" style="left:117.5px">19</span><span class="sw" style="left:117.5px;background:#4e00a6"></span>
<span class="num" style="left:176.3px">20</span><span class="sw" style="left:176.3px;background:#3a00d3"></span>
<span class="num" style="left:235.1px">21</span><span class="sw" style="left:235.1px;background:#1500f4"></span>
<span class="num" style="left:293.9px">22</span><span class="sw" style="left:293.9px;background:#0431f5"></span>
<span class="num" style="left:352.6px">23</span><span class="sw" style="left:352.6px;background:#0568fb"></span>
<span class="num" style="left:411.4px">24</span><span class="sw" style="left:411.4px;background:#05a3fc"></span>
<span class="num" style="left:470.2px">25</span><span class="sw" style="left:470.2px;background:#05d284"></span>
<span class="num" style="left:528.9px">26</span><span class="sw" style="left:528.9px;background:#20ec3c"></span>
<span class="num" style="left:587.7px">27</span><span class="sw" style="left:587.7px;background:#64fc05"></span>
<span class="num" style="left:646.5px">28</span><span class="sw" style="left:646.5px;background:#a8fb05"></span>
<span class="num" style="left:705.2px">29</span><span class="sw" style="left:705.2px;background:#f4fb14"></span>
<span class="num" style="left:764.0px">30</span><span class="sw" style="left:764.0px;background:#ffe51a"></span>
<span class="num" style="left:822.8px">31</span><span class="sw" style="left:822.8px;background:#f7c31e"></span>
<span class="num" style="left:881.6px">32</span><span class="sw" style="left:881.6px;background:#fc851e"></span>
<span class="num" style="left:940.3px">33</span><span class="sw" style="left:940.3px;background:#dc500c"></span>
<span class="num" style="left:999.1px">34</span><span class="sw" style="left:999.1px;background:#f93204"></span>
<span class="num" style="left:1057.9px">35</span><span class="sw" style="left:1057.9px;background:#a20000"></span>
<span class="num" style="left:1116.6px">36</span><span class="sw" style="left:1116.6px;background:#5c0000"></span>
</div>
</body></html>
